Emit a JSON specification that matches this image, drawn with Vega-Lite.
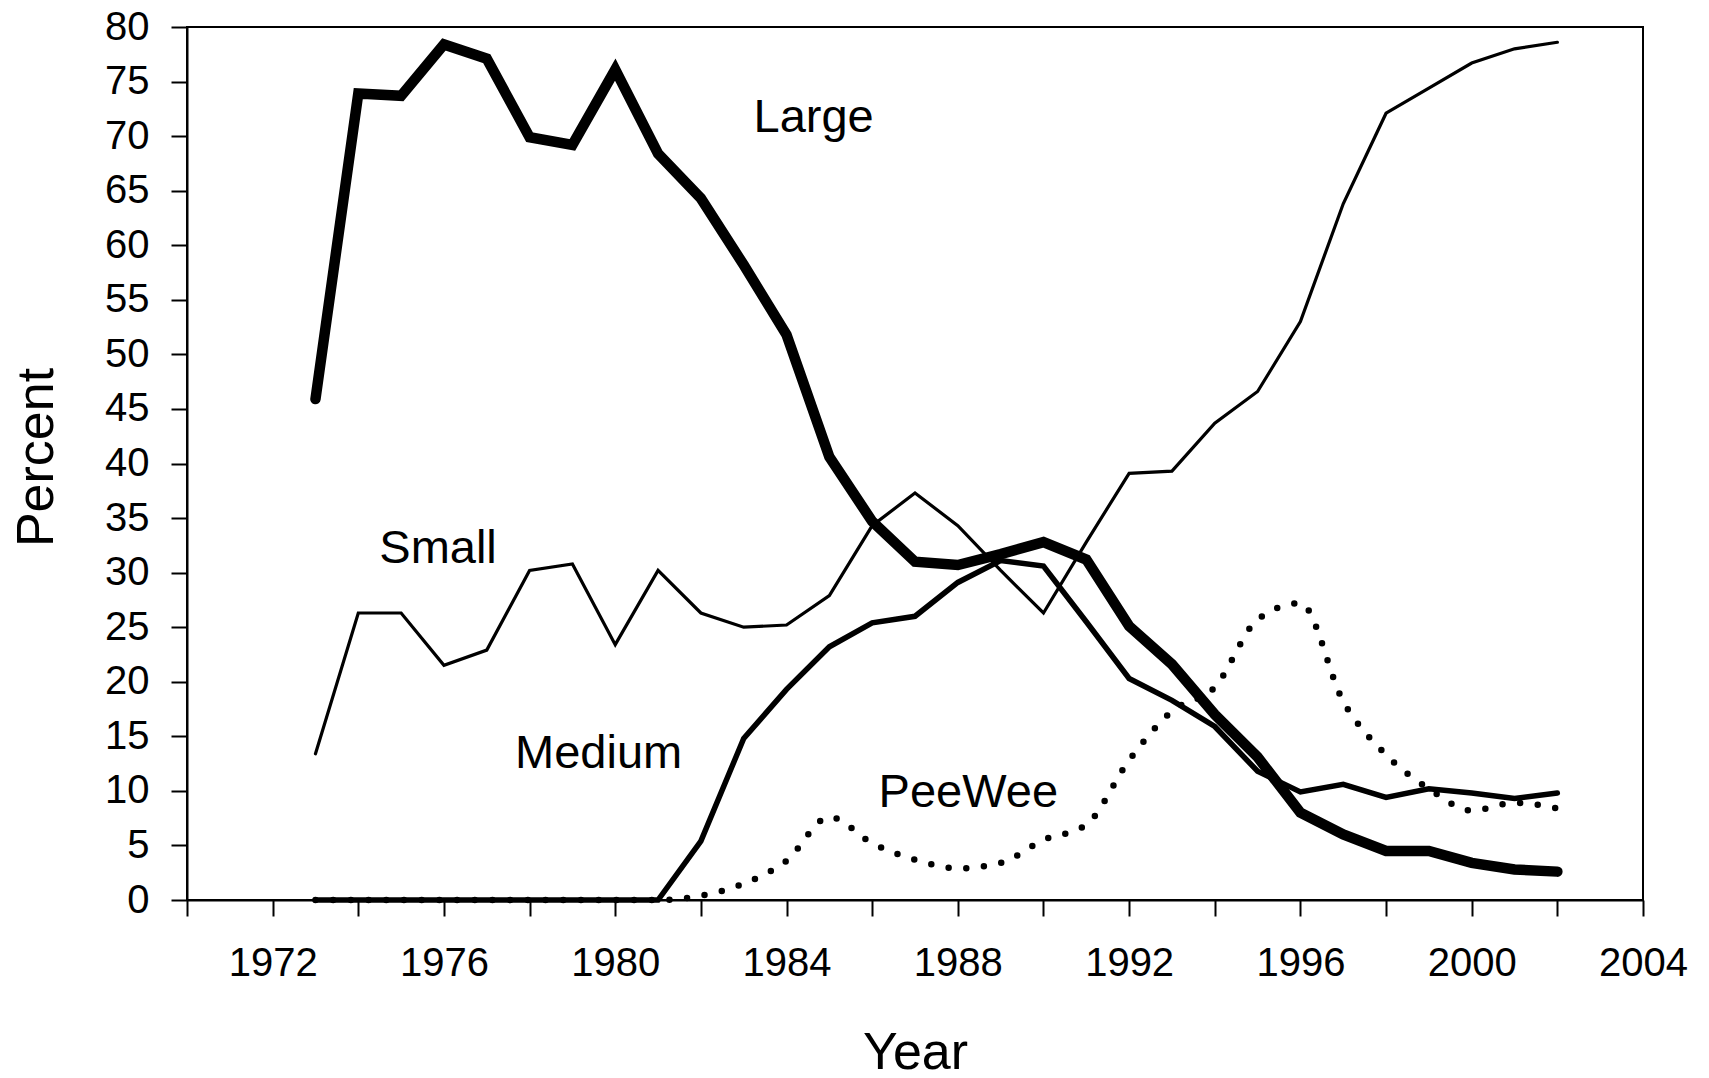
{
  "$schema": "https://vega.github.io/schema/vega-lite/v6.json",
  "width": 1456,
  "height": 873,
  "autosize": "none",
  "padding": {"left": 187, "top": 27, "right": 66, "bottom": 178},
  "background": "white",
  "config": {
    "view": {"stroke": "black", "strokeWidth": 2},
    "axis": {
      "labelFont": "Liberation Sans",
      "labelFontSize": 40,
      "labelColor": "black",
      "titleFont": "Liberation Sans",
      "titleFontSize": 52,
      "titleFontWeight": "normal",
      "titleColor": "black",
      "domainColor": "black",
      "domainWidth": 2,
      "tickColor": "black",
      "tickWidth": 2,
      "tickSize": 16,
      "grid": false
    }
  },
  "datasets": {
    "large": [
      {"year": 1973, "value": 45.9}, {"year": 1974, "value": 73.9}, {"year": 1975, "value": 73.7},
      {"year": 1976, "value": 78.4}, {"year": 1977, "value": 77.1}, {"year": 1978, "value": 69.9},
      {"year": 1979, "value": 69.2}, {"year": 1980, "value": 76.1}, {"year": 1981, "value": 68.4},
      {"year": 1982, "value": 64.3}, {"year": 1983, "value": 58.2}, {"year": 1984, "value": 51.8},
      {"year": 1985, "value": 40.6}, {"year": 1986, "value": 34.7}, {"year": 1987, "value": 31.0},
      {"year": 1988, "value": 30.7}, {"year": 1989, "value": 31.7}, {"year": 1990, "value": 32.8},
      {"year": 1991, "value": 31.2}, {"year": 1992, "value": 25.1}, {"year": 1993, "value": 21.6},
      {"year": 1994, "value": 17.0}, {"year": 1995, "value": 13.1}, {"year": 1996, "value": 8.0},
      {"year": 1997, "value": 6.0}, {"year": 1998, "value": 4.5}, {"year": 1999, "value": 4.5},
      {"year": 2000, "value": 3.4}, {"year": 2001, "value": 2.8}, {"year": 2002, "value": 2.6}
    ],
    "small": [
      {"year": 1973, "value": 13.4}, {"year": 1974, "value": 26.3}, {"year": 1975, "value": 26.3},
      {"year": 1976, "value": 21.5}, {"year": 1977, "value": 22.9}, {"year": 1978, "value": 30.2},
      {"year": 1979, "value": 30.8}, {"year": 1980, "value": 23.4}, {"year": 1981, "value": 30.2},
      {"year": 1982, "value": 26.3}, {"year": 1983, "value": 25.0}, {"year": 1984, "value": 25.2},
      {"year": 1985, "value": 27.9}, {"year": 1986, "value": 34.3}, {"year": 1987, "value": 37.3},
      {"year": 1988, "value": 34.3}, {"year": 1989, "value": 30.2}, {"year": 1990, "value": 26.3},
      {"year": 1991, "value": 32.8}, {"year": 1992, "value": 39.1}, {"year": 1993, "value": 39.3},
      {"year": 1994, "value": 43.7}, {"year": 1995, "value": 46.6}, {"year": 1996, "value": 53.0},
      {"year": 1997, "value": 63.8}, {"year": 1998, "value": 72.1}, {"year": 1999, "value": 74.4},
      {"year": 2000, "value": 76.7}, {"year": 2001, "value": 78.0}, {"year": 2002, "value": 78.6}
    ],
    "medium": [
      {"year": 1973, "value": 0}, {"year": 1974, "value": 0}, {"year": 1975, "value": 0},
      {"year": 1976, "value": 0}, {"year": 1977, "value": 0}, {"year": 1978, "value": 0},
      {"year": 1979, "value": 0}, {"year": 1980, "value": 0}, {"year": 1981, "value": 0},
      {"year": 1982, "value": 5.4}, {"year": 1983, "value": 14.8}, {"year": 1984, "value": 19.3},
      {"year": 1985, "value": 23.2}, {"year": 1986, "value": 25.4}, {"year": 1987, "value": 26.0},
      {"year": 1988, "value": 29.1}, {"year": 1989, "value": 31.1}, {"year": 1990, "value": 30.6},
      {"year": 1991, "value": 25.5}, {"year": 1992, "value": 20.3}, {"year": 1993, "value": 18.3},
      {"year": 1994, "value": 15.9}, {"year": 1995, "value": 11.8}, {"year": 1996, "value": 9.9},
      {"year": 1997, "value": 10.6}, {"year": 1998, "value": 9.4}, {"year": 1999, "value": 10.2},
      {"year": 2000, "value": 9.8}, {"year": 2001, "value": 9.3}, {"year": 2002, "value": 9.8}
    ],
    "peewee": [
      {"year": 1973, "value": 0}, {"year": 1974, "value": 0}, {"year": 1975, "value": 0},
      {"year": 1976, "value": 0}, {"year": 1977, "value": 0}, {"year": 1978, "value": 0},
      {"year": 1979, "value": 0}, {"year": 1980, "value": 0}, {"year": 1981, "value": 0},
      {"year": 1982, "value": 0.4}, {"year": 1983, "value": 1.5}, {"year": 1984, "value": 3.6},
      {"year": 1985, "value": 7.6}, {"year": 1986, "value": 5.2}, {"year": 1987, "value": 3.7},
      {"year": 1988, "value": 2.9}, {"year": 1989, "value": 3.4}, {"year": 1990, "value": 5.5},
      {"year": 1991, "value": 6.9}, {"year": 1992, "value": 12.8}, {"year": 1993, "value": 17.3},
      {"year": 1994, "value": 19.5}, {"year": 1995, "value": 25.7}, {"year": 1996, "value": 27.2},
      {"year": 1997, "value": 18.2}, {"year": 1998, "value": 13.3}, {"year": 1999, "value": 10.2},
      {"year": 2000, "value": 8.2}, {"year": 2001, "value": 8.9}, {"year": 2002, "value": 8.4}
    ],
    "labels": [
      {"label": "Large", "year": 1983.23, "value": 70.4},
      {"label": "Small", "year": 1974.49, "value": 30.85},
      {"label": "Medium", "year": 1977.66, "value": 12.07},
      {"label": "PeeWee", "year": 1986.15, "value": 8.49}
    ]
  },
  "encoding": {
    "x": {
      "field": "year",
      "type": "quantitative",
      "scale": {"domain": [1970, 2004], "nice": false, "zero": false},
      "axis": {
        "title": "Year",
        "values": [1970, 1972, 1974, 1976, 1978, 1980, 1982, 1984, 1986, 1988, 1990, 1992, 1994, 1996, 1998, 2000, 2002, 2004],
        "labelExpr": "datum.value % 4 == 0 ? datum.value + '' : ''",
        "labelPadding": 27,
        "titlePadding": 44,
        "labelFlush": false,
        "labelOverlap": false
      }
    },
    "y": {
      "field": "value",
      "type": "quantitative",
      "scale": {"domain": [0, 80], "nice": false},
      "axis": {
        "title": "Percent",
        "values": [0, 5, 10, 15, 20, 25, 30, 35, 40, 45, 50, 55, 60, 65, 70, 75, 80],
        "labelPadding": 22,
        "titlePadding": 41,
        "titleY": 430,
        "labelFlush": false,
        "labelOverlap": false
      }
    }
  },
  "layer": [
    {
      "data": {"name": "peewee"},
      "mark": {"type": "line", "color": "black", "strokeWidth": 6.5, "strokeDash": [0, 17.7], "strokeCap": "round", "interpolate": "monotone"}
    },
    {
      "data": {"name": "small"},
      "mark": {"type": "line", "color": "black", "strokeWidth": 3.2, "strokeCap": "round"}
    },
    {
      "data": {"name": "medium"},
      "mark": {"type": "line", "color": "black", "strokeWidth": 5.5, "strokeCap": "round"}
    },
    {
      "data": {"name": "large"},
      "mark": {"type": "line", "color": "black", "strokeWidth": 10.5, "strokeCap": "round"}
    },
    {
      "data": {"name": "labels"},
      "mark": {"type": "text", "font": "Liberation Sans", "fontSize": 47, "color": "black", "align": "left", "baseline": "alphabetic"},
      "encoding": {"text": {"field": "label", "type": "nominal"}}
    }
  ]
}
